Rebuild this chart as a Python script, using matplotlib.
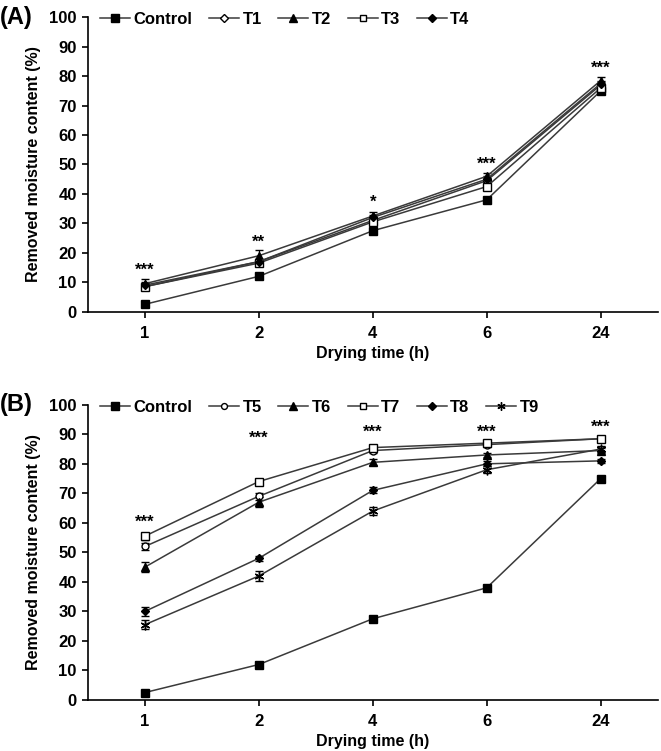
import matplotlib.pyplot as plt
import numpy as np

plt.rcParams['font.family'] = 'Liberation Sans'
plt.rcParams['font.weight'] = 'bold'

# drying times (categorical)
times = ['1', '2', '4', '6', '24']

# panel A
control = [2.5, 12.0, 27.5, 38.0, 75.0]
control_err = [0.5, 0.8, 0.6, 0.5, 0.8]
t1 = [8.5, 17.0, 31.0, 44.5, 77.0]
t1_err = [1.0, 1.0, 1.0, 1.0, 1.0]
t2 = [9.5, 19.0, 32.5, 46.0, 78.5]
t2_err = [1.5, 1.8, 1.5, 1.2, 1.2]
t3 = [8.5, 16.5, 30.5, 42.5, 76.0]
t3_err = [1.0, 0.8, 1.0, 1.0, 1.0]
t4 = [9.0, 17.0, 32.0, 45.0, 77.5]
t4_err = [1.0, 1.0, 1.0, 1.0, 1.0]
stars_a = ['***', '**', '*', '***', '***']
stars_a_y = [11.5, 21.0, 34.5, 47.5, 80.0]

# panel B
t5 = [52.0, 69.0, 84.5, 86.5, 88.5]
t5_err = [1.2, 1.2, 0.8, 0.8, 0.8]
t6 = [45.0, 67.0, 80.5, 83.0, 84.5]
t6_err = [1.8, 1.8, 1.0, 0.8, 0.8]
t7 = [55.5, 74.0, 85.5, 87.0, 88.5]
t7_err = [1.2, 0.8, 0.8, 0.8, 0.8]
t8 = [30.0, 48.0, 71.0, 80.0, 81.0]
t8_err = [1.5, 0.8, 1.0, 0.8, 0.6]
t9 = [25.5, 42.0, 64.0, 78.0, 85.0]
t9_err = [1.5, 1.8, 1.5, 1.2, 1.0]
stars_b = ['***', '***', '***', '***', '***']
stars_b_y = [57.5, 86.0, 88.0, 88.0, 90.0]

x = np.arange(1, len(times) + 1)
line_col = '#3a3a3a'

fig = plt.figure(figsize=(6.61, 7.51), dpi=100)
ax_a = fig.add_axes([0.133, 0.585, 0.862, 0.392])
ax_b = fig.add_axes([0.133, 0.068, 0.862, 0.393])


def draw(ax, y, err, marker, face, label, ms=6):
    c = ax.errorbar(x, y, yerr=err, color=line_col, lw=1.1, marker=marker,
                    mfc=face, mec='black', mew=1.0, ms=ms, ecolor='black',
                    elinewidth=0.9, capsize=3, capthick=0.9)
    return c[0], label


ha = [
    draw(ax_a, control, control_err, 's', 'black', 'Control', ms=6),
    draw(ax_a, t1, t1_err, 'D', 'white', 'T1', ms=4.5),
    draw(ax_a, t2, t2_err, '^', 'black', 'T2'),
    draw(ax_a, t3, t3_err, 's', 'white', 'T3', ms=5.5),
    draw(ax_a, t4, t4_err, 'D', 'black', 'T4', ms=4.5),
]
for xi, s, yi in zip(x, stars_a, stars_a_y):
    ax_a.text(xi, yi, s, ha='center', va='bottom', fontsize=12)

hb = [
    draw(ax_b, control, control_err, 's', 'black', 'Control', ms=6),
    draw(ax_b, t5, t5_err, 'o', 'white', 'T5', ms=5),
    draw(ax_b, t6, t6_err, '^', 'black', 'T6'),
    draw(ax_b, t7, t7_err, 's', 'white', 'T7', ms=5.5),
    draw(ax_b, t8, t8_err, 'D', 'black', 'T8', ms=4.5),
    draw(ax_b, t9, t9_err, (6, 2, 0), 'black', 'T9', ms=7),
]
for xi, s, yi in zip(x, stars_b, stars_b_y):
    ax_b.text(xi, yi, s, ha='center', va='bottom', fontsize=12)

for ax, tag, handles in [(ax_a, '(A)', ha), (ax_b, '(B)', hb)]:
    ax.set_xlim(0.5, 5.5)
    ax.set_ylim(0, 100)
    ax.set_yticks(range(0, 101, 10))
    ax.set_xticks(x)
    ax.set_xticklabels(times)
    ax.spines['top'].set_visible(False)
    ax.spines['right'].set_visible(False)
    ax.spines['left'].set_linewidth(1.2)
    ax.spines['bottom'].set_linewidth(1.2)
    ax.tick_params(axis='both', labelsize=12, width=1.2, length=4)
    ax.tick_params(axis='x', pad=6)
    ax.tick_params(axis='y', pad=4)
    ax.set_xlabel('Drying time (h)', fontsize=11.5, fontweight='bold', labelpad=4)
    ax.set_ylabel('Removed moisture content (%)', fontsize=11.5, fontweight='bold', labelpad=6)
    ax.text(-0.155, 1.0, tag, transform=ax.transAxes, fontsize=17, fontweight='bold',
            ha='left', va='center')
    ax.legend([h for h, _ in handles], [l for _, l in handles],
              loc='upper left', bbox_to_anchor=(0.01, 1.04), ncol=6,
              frameon=False, fontsize=12, handlelength=1.8, handletextpad=0.2,
              columnspacing=1.0, borderaxespad=0, markerscale=0.85)

fig.savefig('out.png', dpi=100)
